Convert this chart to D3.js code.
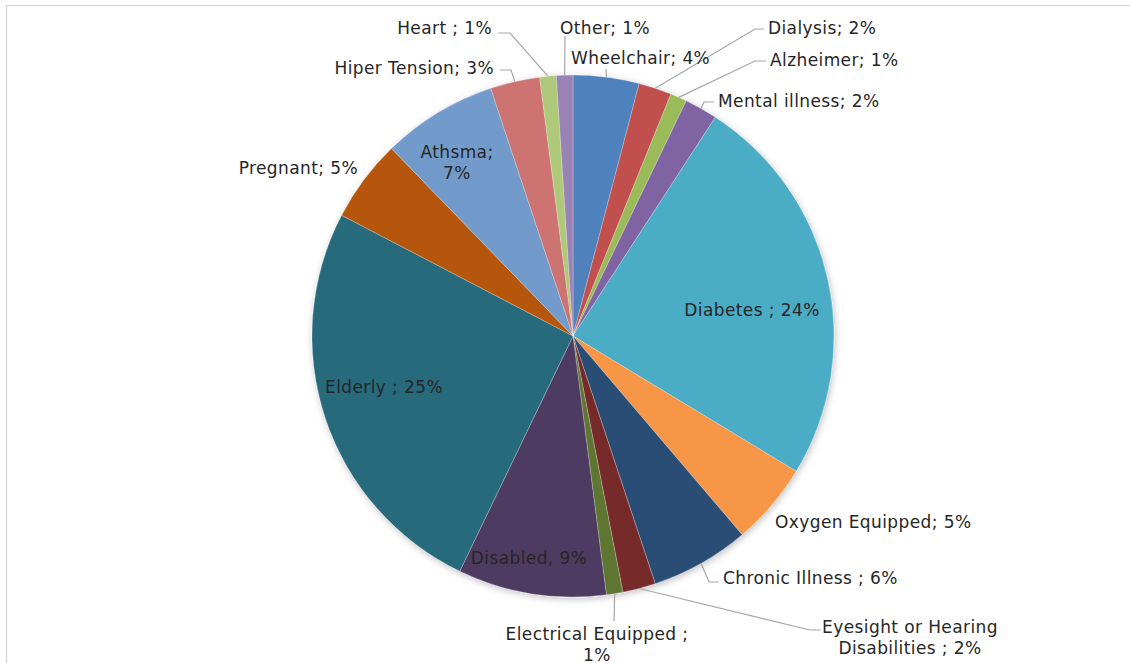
<!DOCTYPE html>
<html>
<head>
<meta charset="utf-8">
<script src="https://cdn.jsdelivr.net/npm/d3@7"></script>
<style>
  html, body { margin: 0; padding: 0; background: #fff; }
  svg { display: block; }
  text { font-family: "Century Gothic", "DejaVu Sans", sans-serif; fill: #262626; }
</style>
</head>
<body>
<svg id="chart" width="1130" height="663"></svg>
<script>
// Share of registered residents by special-needs category (percent)
const categories = [
  "Wheelchair", "Dialysis", "Alzheimer", "Mental illness", "Diabetes",
  "Oxygen Equipped", "Chronic Illness", "Eyesight or Hearing Disabilities",
  "Electrical Equipped", "Disabled", "Elderly", "Pregnant", "Athsma",
  "Hiper Tension", "Heart", "Other"
];
const values = [4, 2, 1, 2, 24, 5, 6, 2, 1, 9, 25, 5, 7, 3, 1, 1];
const separators = ["; ", "; ", "; ", "; ", " ; ", "; ", " ; ", " ; ", " ; ", ", ", " ; ", "; ", "; ", "; ", " ; ", "; "];
const colors = [
  "#4F81BD", "#C0504D", "#9BBB59", "#8064A2", "#4BACC6",
  "#F79646", "#2C4D75", "#772C2A", "#5F7530", "#4D3B62",
  "#276A7C", "#B65708", "#729ACA", "#CD7371", "#AFC97A", "#9983B5"
];

// Label placement: text anchor point, alignment, words on first line, leader bend/end
const labelLayout = {
  "Wheelchair":      { x: 571, y: 58,  anchor: "start", leader: [[606, 69]] },
  "Dialysis":        { x: 768, y: 28,  anchor: "start", leader: [[755, 29], [764, 29]] },
  "Alzheimer":       { x: 770, y: 60,  anchor: "start", leader: [[755, 61], [766, 61]] },
  "Mental illness":  { x: 718, y: 101, anchor: "start", leader: [[704, 102], [714, 102]] },
  "Diabetes":        { x: 752, y: 310, anchor: "middle" },
  "Oxygen Equipped": { x: 775, y: 522, anchor: "start" },
  "Chronic Illness": { x: 723, y: 578, anchor: "start", leader: [[709, 582], [719, 582]] },
  "Eyesight or Hearing Disabilities": { x: 910, y: 627, anchor: "middle", split: 3, leader: [[810, 630], [821, 630]] },
  "Electrical Equipped": { x: 597, y: 634, anchor: "middle", split: 3, leader: [[614, 621]] },
  "Disabled":        { x: 529, y: 558, anchor: "middle" },
  "Elderly":         { x: 384, y: 387, anchor: "middle" },
  "Pregnant":        { x: 358, y: 168, anchor: "end" },
  "Athsma":          { x: 457, y: 152, anchor: "middle", split: 1 },
  "Hiper Tension":   { x: 494, y: 68,  anchor: "end", leader: [[511, 70], [500, 70]] },
  "Heart":           { x: 492, y: 28,  anchor: "end", leader: [[510, 33], [498, 33]] },
  "Other":           { x: 560, y: 28,  anchor: "start", leader: [[565, 36]] }
};

const svg = d3.select("#chart");
const cx = 573, cy = 336, radius = 261;
const lineHeight = 21;

// Chart frame
svg.append("rect")
  .attr("x", 6.5).attr("y", 5.5)
  .attr("width", 1130).attr("height", 700)
  .attr("fill", "#fff")
  .attr("stroke", "#D9D9D9")
  .attr("stroke-width", 1.5);

// Soft shadow under the pie
const defs = svg.append("defs");
const shadow = defs.append("filter").attr("id", "pieShadow")
  .attr("x", "-10%").attr("y", "-10%").attr("width", "120%").attr("height", "120%");
shadow.append("feDropShadow")
  .attr("dx", 1).attr("dy", 2).attr("stdDeviation", 3.5)
  .attr("flood-color", "#000").attr("flood-opacity", 0.25);

const data = categories.map((c, i) => ({ category: c, value: values[i], sep: separators[i], color: colors[i] }));

const pie = d3.pie().value(d => d.value).sort(null);
const arcs = pie(data);
const arc = d3.arc().innerRadius(0).outerRadius(radius);

const g = svg.append("g").attr("transform", `translate(${cx},${cy})`);

g.append("g").attr("filter", "url(#pieShadow)")
  .selectAll("path")
  .data(arcs)
  .join("path")
  .attr("d", arc)
  .attr("fill", d => d.data.color)
  .attr("stroke", "#fff")
  .attr("stroke-width", 0.25);

// Leader lines from the slice rim to outside labels
const rimPoint = d => {
  const a = (d.startAngle + d.endAngle) / 2;
  return [cx + radius * Math.sin(a), cy - radius * Math.cos(a)];
};

svg.append("g")
  .selectAll("polyline")
  .data(arcs.filter(d => labelLayout[d.data.category].leader))
  .join("polyline")
  .attr("points", d => [rimPoint(d), ...labelLayout[d.data.category].leader].map(p => p.join(",")).join(" "))
  .attr("fill", "none")
  .attr("stroke", "#A6A6A6")
  .attr("stroke-width", 1.2);

// Data labels: category + separator + percentage
const labels = svg.append("g")
  .selectAll("text")
  .data(arcs)
  .join("text")
  .attr("font-size", 17)
  .attr("letter-spacing", 0.4)
  .attr("text-anchor", d => labelLayout[d.data.category].anchor)
  .attr("dominant-baseline", "central");

labels.each(function(d) {
  const L = labelLayout[d.data.category];
  const full = d.data.category + d.data.sep + d.data.value + "%";
  let lines = [full];
  if (L.split) {
    const words = full.split(" ");
    lines = [words.slice(0, L.split).join(" "), words.slice(L.split).join(" ")];
  }
  d3.select(this).selectAll("tspan")
    .data(lines)
    .join("tspan")
    .attr("x", L.x)
    .attr("y", (t, i) => L.y + i * lineHeight)
    .text(t => t);
});
</script>
</body>
</html>
